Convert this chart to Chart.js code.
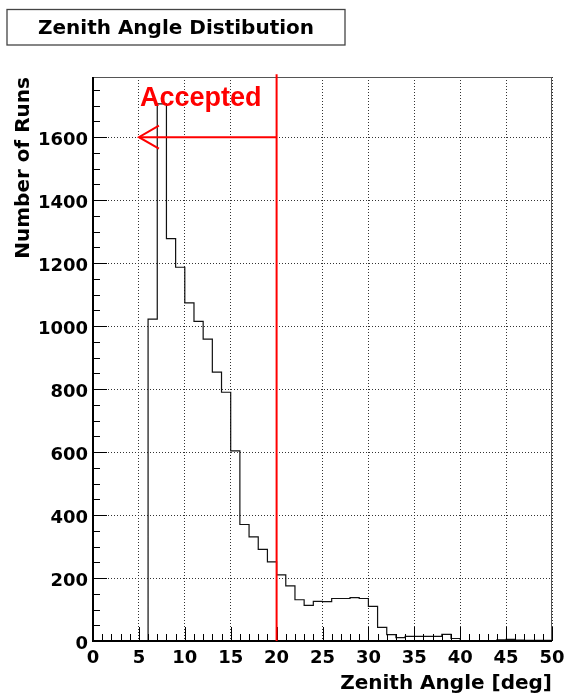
<!DOCTYPE html>
<html>
<head>
<meta charset="utf-8">
<script src="https://cdn.jsdelivr.net/npm/chart.js@4.4.1/dist/chart.umd.min.js"></script>
<style>
  body { margin: 0; background: #fff; }
  #wrap { width: 564px; height: 696px; }
</style>
</head>
<body>
<div id="wrap"><canvas id="zenith"></canvas></div>
<script>
// runs per 1 deg zenith bin, first bin starts at 0 deg
var runsPerBin = [
  0, 0, 0, 0, 0, 0, 1022, 1706, 1278, 1187,
  1074, 1015, 959, 854, 790, 604, 370, 331, 291, 251,
  210, 175, 131, 113, 126, 125, 135, 135, 138, 135,
  110, 43, 20, 11, 15, 15, 15, 15, 21, 8,
  0, 0, 0, 0, 4, 5, 3, 2, 2, 2
];
var binWidth = 1;
var xTicks = [0, 5, 10, 15, 20, 25, 30, 35, 40, 45, 50];
var yTicks = [0, 200, 400, 600, 800, 1000, 1200, 1400, 1600];

// zenith cut
var cutDeg = 20;
var arrowToDeg = 5;
var arrowLevel = 1600;
var cutLineTop = 1800;
var cutLabel = 'Accepted';

var histTitle = 'Zenith Angle Distibution';
var blackFont = '"DejaVu Sans", sans-serif';

// step outline: one point per bin lower edge plus the closing edge
var steps = runsPerBin.map(function(n, i) { return {x: i * binWidth, y: n}; });
steps.push({x: runsPerBin.length * binWidth, y: runsPerBin[runsPerBin.length - 1]});

var yMax = Math.max.apply(null, runsPerBin) * 1.05;

function seg(ctx, x1, y1, x2, y2) {
  ctx.beginPath();
  ctx.moveTo(x1, y1);
  ctx.lineTo(x2, y2);
  ctx.stroke();
}

var rootStyle = {
  id: 'rootStyle',
  beforeDraw: function(chart) {
    var ctx = chart.ctx;
    ctx.save();
    ctx.fillStyle = '#fff';
    ctx.fillRect(0, 0, chart.width, chart.height);
    // title box
    ctx.strokeStyle = '#444';
    ctx.lineWidth = 1.3;
    ctx.strokeRect(7, 9.5, 338, 35.5);
    ctx.fillStyle = '#000';
    ctx.font = 'bold 20px ' + blackFont;
    ctx.textAlign = 'center';
    ctx.textBaseline = 'alphabetic';
    ctx.fillText(histTitle, 176, 33.5);
    ctx.restore();
  },
  afterDatasetsDraw: function(chart) {
    var ctx = chart.ctx, a = chart.chartArea;
    var xs = chart.scales.x, ys = chart.scales.y;
    ctx.save();

    // ticks inside the frame
    ctx.strokeStyle = '#000';
    ctx.lineWidth = 1;
    var v, p;
    for (v = xs.min; v <= xs.max; v += 1) {
      p = Math.round(xs.getPixelForValue(v)) + 0.5;
      seg(ctx, p, a.bottom, p, a.bottom - (v % 5 === 0 ? 14 : 7));
    }
    for (v = 0; v <= ys.max; v += 50) {
      p = Math.round(ys.getPixelForValue(v)) + 0.5;
      seg(ctx, a.left, p, a.left + (v % 200 === 0 ? 14 : 7), p);
    }

    // frame: axes on left/bottom, thin box on top/right
    ctx.strokeStyle = '#555';
    ctx.lineWidth = 1;
    seg(ctx, a.left, a.top + 0.5, a.right, a.top + 0.5);
    seg(ctx, a.right - 0.5, a.top, a.right - 0.5, a.bottom);
    ctx.strokeStyle = '#000';
    ctx.lineWidth = 2;
    seg(ctx, a.left, a.top, a.left, a.bottom + 1);
    seg(ctx, a.left - 1, a.bottom, a.right, a.bottom);

    // cut line and accepted arrow
    var cx = xs.getPixelForValue(cutDeg);
    var ax = xs.getPixelForValue(arrowToDeg);
    var ay = ys.getPixelForValue(arrowLevel);
    ctx.strokeStyle = '#ff0000';
    ctx.lineWidth = 2;
    seg(ctx, cx, ys.getPixelForValue(cutLineTop), cx, a.bottom);
    seg(ctx, cx, ay, ax, ay);
    ctx.beginPath();
    ctx.moveTo(ax + 20, ay - 11.5);
    ctx.lineTo(ax, ay);
    ctx.lineTo(ax + 20, ay + 11.5);
    ctx.stroke();

    ctx.fillStyle = '#ff0000';
    ctx.font = 'bold 27px "Liberation Sans", Arial, sans-serif';
    ctx.textAlign = 'left';
    ctx.textBaseline = 'alphabetic';
    ctx.fillText(cutLabel, ax + 1, ys.getPixelForValue(1700));
    ctx.restore();
  }
};

var ctx = document.getElementById('zenith');
var zenithChart = new Chart(ctx, {
  type: 'line',
  data: {
    datasets: [{
      label: 'runs',
      data: steps,
      stepped: 'before',
      borderColor: '#111',
      borderWidth: 1.2,
      pointRadius: 0,
      fill: false
    }]
  },
  options: {
    responsive: true,
    maintainAspectRatio: false,
    animation: false,
    events: [],
    layout: { padding: { top: 77, right: 12, left: 0, bottom: 0 } },
    plugins: { legend: { display: false }, tooltip: { enabled: false } },
    scales: {
      x: {
        type: 'linear',
        min: 0,
        max: 50,
        afterBuildTicks: function(scale) {
          scale.ticks = xTicks.map(function(t) { return {value: t}; });
        },
        afterFit: function(scale) {
          scale.height = 55;
          scale.paddingLeft = 0;
          scale.paddingRight = 0;
        },
        grid: { drawTicks: false, color: '#333', lineWidth: 1 },
        border: { display: false, dash: [1, 2] },
        ticks: {
          padding: 7,
          maxRotation: 0,
          autoSkip: false,
          color: '#000',
          font: { family: blackFont, weight: 'bold', size: 18 },
          callback: function(value) { return String(value); }
        },
        title: {
          display: true,
          text: 'Zenith Angle [deg]',
          align: 'end',
          color: '#000',
          padding: { top: 0, bottom: 0 },
          font: { family: blackFont, weight: 'bold', size: 20 }
        }
      },
      y: {
        min: 0,
        max: yMax,
        afterBuildTicks: function(scale) {
          scale.ticks = yTicks.map(function(t) { return {value: t}; });
        },
        afterFit: function(scale) {
          scale.width = 93;
          scale.paddingTop = 0;
          scale.paddingBottom = 0;
        },
        grid: { drawTicks: false, color: '#333', lineWidth: 1 },
        border: { display: false, dash: [1, 2] },
        ticks: {
          padding: 5,
          labelOffset: 3,
          autoSkip: false,
          color: '#000',
          font: { family: blackFont, weight: 'bold', size: 18 },
          callback: function(value) { return String(value); }
        },
        title: {
          display: true,
          text: 'Number of Runs',
          align: 'end',
          color: '#000',
          padding: { top: 12, bottom: 0 },
          font: { family: blackFont, weight: 'bold', size: 20 }
        }
      }
    }
  },
  plugins: [rootStyle]
});
</script>
</body>
</html>
